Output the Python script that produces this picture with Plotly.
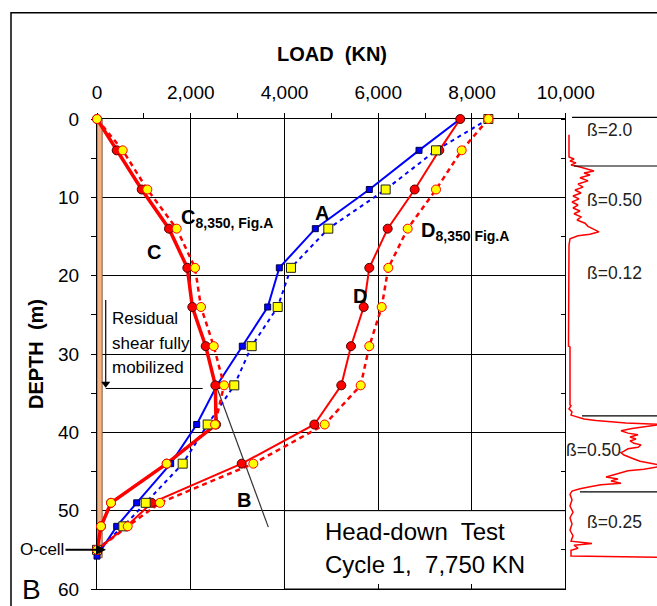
import plotly.graph_objects as go

FONT = "Liberation Sans, Arial, sans-serif"

# ---- load distribution data (load in kN, depth in m) ----
depth = [0, 4, 9, 14, 19, 24, 29, 34, 39, 44, 49, 52, 55]
depth_A = [0, 4, 9, 14, 19, 24, 29, 34, 39, 44, 49, 52, 55.8]

load_C = [0, 420, 954, 1536, 1927, 2034, 2319, 2525, 2540, 1487, 299, 85, 0]
load_C8350 = [0, 548, 1074, 1700, 2091, 2219, 2490, 2710, 2518, 1487, 299, 85, 0]
load_A = [7750, 6870, 5810, 4658, 3890, 3642, 3100, 2560, 2127, 1572, 847, 420, 0]
load_A8350 = [8350, 7233, 6159, 4935, 4139, 3855, 3300, 2929, 2361, 1828, 1039, 562, 0]
load_D = [7750, 7303, 6778, 6202, 5810, 5690, 5419, 5212, 4637, 3087, 1167, 633, 0]
load_D8350 = [8350, 7781, 7233, 6629, 6215, 6074, 5810, 5626, 4858, 3335, 1344, 655, 0]

# line B
line_B_load = [2540, 3655]
line_B_depth = [34.0, 52.1]

# pile shaft and O-cell
pile_width_kN = 110
pile_toe_depth = 56
ocell_depth = 55

# residual shear zone marker
residual_x = 186
residual_top_depth = 23.1
residual_base_depth = 34.4
residual_line_end = 2255
residual_lines = ["Residual", "shear fully", "mobilized"]
residual_line_depths = [25.5, 28.6, 31.7]

# test description
test_lines = ["Head-down&nbsp; Test", "Cycle 1,&nbsp; 7,750 KN"]
test_line_depths = [52.7, 56.9]

# soil profile log (right panel)
profile_depth = [2.0, 4.85, 5.1, 5.36, 5.6, 5.87, 6.13, 6.38, 6.64, 6.9, 7.15, 7.5, 7.9, 8.3,
                 8.7, 9.06, 9.45, 9.83, 10.2, 10.6, 10.98, 11.36, 11.75, 12.1, 12.5, 12.9,
                 13.3, 13.7, 14.04, 14.4, 14.7, 14.9, 15.3, 16.1, 29.0, 29.1, 36.5, 36.6,
                 37.0, 37.4, 37.8, 38.0, 38.3, 38.5, 38.8, 39.0, 39.3, 39.5, 39.8, 40.1,
                 40.3, 40.6, 40.85, 41.1, 41.4, 41.6, 41.9, 42.1, 42.4, 42.6, 42.9, 43.2,
                 43.4, 43.7, 43.9, 44.2, 44.4, 44.7, 44.9, 45.2, 45.45, 45.7, 45.96, 46.2,
                 46.5, 46.7, 46.96, 47.2, 47.5, 47.9, 48.6, 49.4, 50.2, 50.9, 51.7, 52.5,
                 53.2, 53.9, 54.2, 54.4, 54.8, 55.05, 55.8, 55.95]
profile_value = [3, 3, 8, 4, 10, 5, 14, 20, 28, 18, 24, 14, 22, 12,
                 17, 9, 15, 7, 13, 6, 12, 7, 14, 8, 15, 11,
                 19, 22, 27, 33, 24, 12, 4, 3, 2.5, 4, 4, 5,
                 3, 6, 5, 10, 18, 30, 60, 95, 75, 66, 55, 62,
                 72, 64, 70, 64, 68, 75, 72, 62, 58, 55, 58, 63,
                 68, 74, 82, 95, 92, 78, 62, 54, 48, 40, 52, 45,
                 55, 35, 24, 14, 6, 4, 6, 4, 7, 4, 6, 4,
                 7, 5, 26, 8, 12, 5, 5, 95]

layer_boundaries = [-0.2, 6.0, 37.9, 47.6]
layer_line_start = [6, 8, 16, 14]
beta_labels = ["ß=2.0", "ß=0.50", "ß=0.12", "ß=0.50", "ß=0.25"]
beta_depths = [1.4, 10.4, 19.6, 42.3, 51.4]
beta_x = [44, 48, 48, 27, 48]

W, H = 657, 606


def px(x):
    return x / W


def py(y):
    return 1 - y / H


RED = "#FF0000"
BLUE = "#0000FF"
YEL = "#FFFF00"

fig = go.Figure()

# pile shaft
fig.add_trace(go.Scatter(
    x=[0, pile_width_kN, pile_width_kN, 0, 0],
    y=[0, 0, pile_toe_depth, pile_toe_depth, 0],
    fill="toself", fillcolor="#F4B183", mode="lines",
    line=dict(color="#8B5A3C", width=1), hoverinfo="skip"))

# line B
fig.add_trace(go.Scatter(x=line_B_load, y=line_B_depth, mode="lines",
                         line=dict(color="#333333", width=1.2), hoverinfo="skip"))

# residual shear arrow (shaft + head)
fig.add_trace(go.Scatter(x=[residual_x, residual_x],
                         y=[residual_top_depth, residual_base_depth - 0.6],
                         mode="lines", line=dict(color="black", width=1.2), hoverinfo="skip"))
fig.add_trace(go.Scatter(x=[residual_x], y=[residual_base_depth - 0.6], mode="markers",
                         marker=dict(symbol="triangle-down", size=8, color="black"),
                         cliponaxis=False, hoverinfo="skip"))

# curves
fig.add_trace(go.Scatter(x=load_A8350, y=depth, mode="lines",
                         line=dict(color=BLUE, width=2, dash="4px,4px")))
fig.add_trace(go.Scatter(x=load_A, y=depth_A, mode="lines",
                         line=dict(color=BLUE, width=2)))
fig.add_trace(go.Scatter(x=load_C8350, y=depth, mode="lines",
                         line=dict(color=RED, width=2.5, dash="5px,4px")))
fig.add_trace(go.Scatter(x=load_D8350, y=depth, mode="lines",
                         line=dict(color=RED, width=2.5, dash="5px,4px")))
fig.add_trace(go.Scatter(x=load_D, y=depth, mode="lines",
                         line=dict(color=RED, width=2)))
fig.add_trace(go.Scatter(x=load_C, y=depth, mode="lines",
                         line=dict(color=RED, width=3.5)))

# markers
fig.add_trace(go.Scatter(x=load_A, y=depth_A, mode="markers", cliponaxis=False,
                         marker=dict(symbol="square", size=6, color=BLUE,
                                     line=dict(color="#000040", width=1))))
fig.add_trace(go.Scatter(x=load_C + load_D, y=depth + depth, mode="markers", cliponaxis=False,
                         marker=dict(symbol="circle", size=9, color=RED,
                                     line=dict(color="#500000", width=1))))
fig.add_trace(go.Scatter(x=load_A8350, y=depth, mode="markers", cliponaxis=False,
                         marker=dict(symbol="square", size=9, color=YEL,
                                     line=dict(color="#202020", width=1))))
fig.add_trace(go.Scatter(x=load_C8350 + load_D8350, y=depth + depth, mode="markers",
                         cliponaxis=False,
                         marker=dict(symbol="circle", size=9, color=YEL,
                                     line=dict(color=RED, width=1))))

# soil profile log
fig.add_trace(go.Scatter(x=profile_value, y=profile_depth, mode="lines",
                         xaxis="x2", yaxis="y2",
                         line=dict(color=RED, width=1.5)))

# invisible trace to carry the bottom tick axis
fig.add_trace(go.Scatter(x=[None], y=[None], xaxis="x3", yaxis="y", mode="markers",
                         hoverinfo="skip"))

shapes = [
    # outer frame
    dict(type="rect", xref="paper", yref="paper", x0=px(11), x1=1.1, y0=-0.1, y1=py(12.7),
         line=dict(color="black", width=1.5)),
    # test legend box
    dict(type="rect", xref="x", yref="y", x0=4000, x1=10000, y0=50, y1=60,
         fillcolor="white", line=dict(color="black", width=1), layer="between"),
    # residual shear base line
    dict(type="line", xref="x", yref="y", x0=residual_x, x1=residual_line_end,
         y0=residual_base_depth, y1=residual_base_depth,
         line=dict(color="black", width=1)),
]
for d, x0 in zip(layer_boundaries, layer_line_start):
    shapes.append(dict(type="line", xref="x2", yref="y2", x0=x0, x1=91, y0=d, y1=d,
                       line=dict(color="black", width=1.2)))


def label(text, x, y, size=20, **kw):
    return dict(text=text, x=x, y=y, showarrow=False, xanchor=kw.pop("xanchor", "center"),
                yanchor=kw.pop("yanchor", "middle"),
                font=dict(size=size, family=FONT, color="black"), **kw)


annotations = [
    label("<b>LOAD&nbsp; (KN)</b>", px(332), py(54), xref="paper", yref="paper"),
    label("<b>DEPTH&nbsp; (m)</b>", px(36), py(354), xref="paper", yref="paper",
          textangle=-90),
    label("<b>A</b>", 4800, 12.0),
    label("<b>C</b>", 1223, 17.0),
    label("<b>C<sub>8,350, Fig.A</sub></b>", 1740, 12.7, xanchor="left"),
    label("<b>D<sub>8,350 Fig.A</sub></b>", 6880, 14.4, xanchor="left"),
    label("<b>D</b>", 5611, 22.6),
    label("<b>B</b>", 3130, 48.6),
    label("B", px(31), 0, size=28, xref="paper", yref="paper", yanchor="bottom",
          borderpad=0),
    dict(text="O-cell", x=192, y=ocell_depth, ax=-64, ay=0, xanchor="center",
         showarrow=True, arrowhead=2, arrowsize=1, arrowwidth=2, arrowcolor="black",
         font=dict(size=17, family=FONT, color="black")),
]
for t, d in zip(residual_lines, residual_line_depths):
    annotations.append(label(t, 272, d, size=17, xanchor="left"))
for t, d in zip(test_lines, test_line_depths):
    annotations.append(label(t, 4822, d, size=24, xanchor="left"))
for lab, d, xv in zip(beta_labels, beta_depths, beta_x):
    annotations.append(dict(text=lab, xref="x2", yref="y2", x=xv, y=d, showarrow=False,
                            xanchor="center", yanchor="middle",
                            font=dict(size=17.5, family=FONT, color="#222222")))

fig.update_layout(
    width=W, height=H, margin=dict(l=0, r=0, t=0, b=0, autoexpand=False),
    plot_bgcolor="white", paper_bgcolor="white", showlegend=False,
    shapes=shapes, annotations=annotations,
    xaxis=dict(domain=[px(97), px(565.7)], range=[0, 10000], side="top", anchor="y",
               automargin=False,
               showline=True, linecolor="black", linewidth=1.2,
               ticks="outside", ticklen=5, tickcolor="black", dtick=2000, tickformat=",d",
               showgrid=True, gridcolor="black", gridwidth=1, zeroline=False,
               minor=dict(dtick=1000, ticks="outside", ticklen=5, tickcolor="black",
                          showgrid=False),
               tickfont=dict(size=19, family=FONT, color="black"),
               ticklabelstandoff=6, layer="below traces"),
    yaxis=dict(domain=[py(589), py(119)], range=[60, 0], anchor="x", automargin=False,
               showline=True, linecolor="black", linewidth=1.2,
               ticks="outside", ticklen=5, tickcolor="black", dtick=10,
               showgrid=True, gridcolor="black", gridwidth=1, zeroline=False,
               minor=dict(dtick=5, ticks="outside", ticklen=5, tickcolor="black",
                          showgrid=False),
               tickfont=dict(size=19, family=FONT, color="black"),
               ticklabelstandoff=8, layer="below traces"),
    xaxis3=dict(overlaying="x", side="bottom", anchor="y", range=[0, 10000], automargin=False,
                showline=True, linecolor="black", linewidth=1.2, ticks="inside",
                ticklen=5, tickcolor="black", dtick=2000, showticklabels=False,
                showgrid=False, zeroline=False),
    xaxis2=dict(domain=[px(566), 1], range=[0, 91], anchor="y2", showline=False,
                automargin=False,
                showticklabels=False, showgrid=False, zeroline=False, ticks=""),
    yaxis2=dict(domain=[py(589), py(114)], range=[60, -0.64], anchor="x2", automargin=False,
                showline=True, linecolor="black", linewidth=1.2, ticks="outside",
                ticklen=4, tickcolor="black", dtick=5, showticklabels=False,
                showgrid=False, zeroline=False),
)

fig.write_html("out.html")
